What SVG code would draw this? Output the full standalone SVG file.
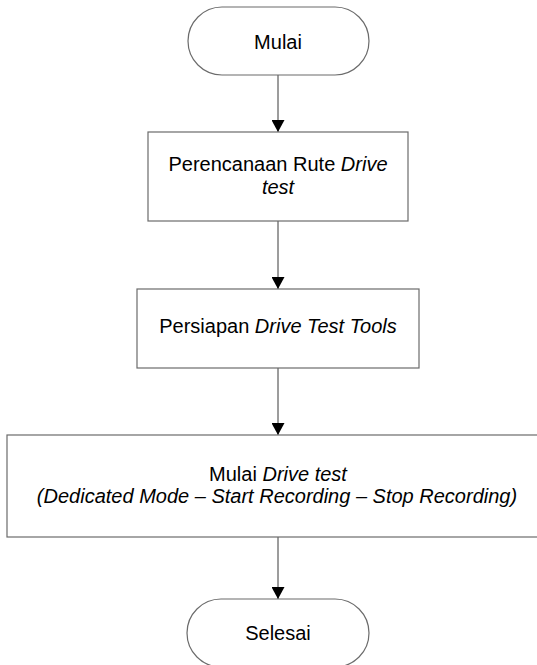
<svg xmlns="http://www.w3.org/2000/svg" width="537" height="665" viewBox="0 0 537 665">
  <style>
    .shape { fill: #ffffff; stroke: #6b6b6b; stroke-width: 1.2; }
    .label { font-family: "Liberation Sans", Arial, sans-serif; font-size: 20px; fill: #000000; text-anchor: middle; }
    .it { font-style: italic; }
    .flow { stroke: #3a3a3a; stroke-width: 1; fill: none; marker-end: url(#head); }
  </style>
  <defs>
    <marker id="head" viewBox="0 0 12 13" refX="12" refY="6.5" markerWidth="12" markerHeight="13" markerUnits="userSpaceOnUse" orient="auto">
      <path d="M0,0 L12,6.5 L0,13 Z" fill="#000000"/>
    </marker>
  </defs>
  <rect width="537" height="665" fill="#ffffff"/>

  <g id="connectors">
    <line class="flow" x1="278" y1="75" x2="278" y2="132"/>
    <line class="flow" x1="278" y1="221" x2="278" y2="289"/>
    <line class="flow" x1="278" y1="368" x2="278" y2="435"/>
    <line class="flow" x1="278" y1="537" x2="278" y2="599"/>
  </g>

  <g id="start">
    <rect class="shape" x="188" y="7" width="181" height="68" rx="34" ry="34"/>
    <text class="label" x="278" y="49">Mulai</text>
  </g>

  <g id="route-planning">
    <rect class="shape" x="148" y="132" width="260" height="89"/>
    <text class="label" x="278" y="171">Perencanaan Rute <tspan class="it">Drive</tspan></text>
    <text class="label it" x="278" y="194">test</text>
  </g>

  <g id="tool-prep">
    <rect class="shape" x="137" y="289" width="282" height="79"/>
    <text class="label" x="278" y="333">Persiapan <tspan class="it">Drive Test Tools</tspan></text>
  </g>

  <g id="drive-test">
    <rect class="shape" x="7" y="435" width="542" height="102"/>
    <text class="label" x="278" y="481">Mulai <tspan class="it">Drive test</tspan></text>
    <text class="label it" x="277" y="503">(Dedicated Mode – Start Recording – Stop Recording)</text>
  </g>

  <g id="end">
    <rect class="shape" x="187" y="599" width="182" height="68" rx="34" ry="34"/>
    <text class="label" x="278" y="640">Selesai</text>
  </g>
</svg>
